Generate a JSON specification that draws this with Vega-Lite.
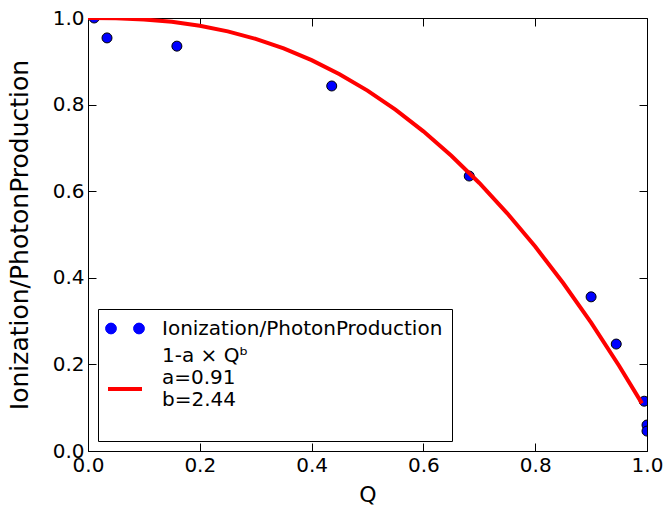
{
  "$schema": "https://vega.github.io/schema/vega-lite/v6.json",
  "width": 559,
  "height": 433,
  "autosize": {"type": "none"},
  "padding": {"left": 88, "top": 18, "right": 21, "bottom": 55},
  "background": "white",
  "datasets": {
    "pts": [
      {"Q": 0.011, "R": 1.0, "series": "Ionization/PhotonProduction"},
      {"Q": 0.034, "R": 0.954, "series": "Ionization/PhotonProduction"},
      {"Q": 0.159, "R": 0.935, "series": "Ionization/PhotonProduction"},
      {"Q": 0.436, "R": 0.843, "series": "Ionization/PhotonProduction"},
      {"Q": 0.682, "R": 0.635, "series": "Ionization/PhotonProduction"},
      {"Q": 0.9, "R": 0.356, "series": "Ionization/PhotonProduction"},
      {"Q": 0.945, "R": 0.247, "series": "Ionization/PhotonProduction"},
      {"Q": 0.995, "R": 0.115, "series": "Ionization/PhotonProduction"},
      {"Q": 1.0, "R": 0.06, "series": "Ionization/PhotonProduction"},
      {"Q": 1.0, "R": 0.046, "series": "Ionization/PhotonProduction"}
    ],
    "fit": [
      {"Q": 0.0, "R": 1.0, "series": "fit"},
      {"Q": 0.05, "R": 0.9994, "series": "fit"},
      {"Q": 0.1, "R": 0.9967, "series": "fit"},
      {"Q": 0.15, "R": 0.9911, "series": "fit"},
      {"Q": 0.2, "R": 0.9821, "series": "fit"},
      {"Q": 0.25, "R": 0.9691, "series": "fit"},
      {"Q": 0.3, "R": 0.9518, "series": "fit"},
      {"Q": 0.35, "R": 0.9298, "series": "fit"},
      {"Q": 0.4, "R": 0.9027, "series": "fit"},
      {"Q": 0.45, "R": 0.8703, "series": "fit"},
      {"Q": 0.5, "R": 0.8323, "series": "fit"},
      {"Q": 0.55, "R": 0.7884, "series": "fit"},
      {"Q": 0.6, "R": 0.7383, "series": "fit"},
      {"Q": 0.65, "R": 0.6819, "series": "fit"},
      {"Q": 0.7, "R": 0.6189, "series": "fit"},
      {"Q": 0.75, "R": 0.549, "series": "fit"},
      {"Q": 0.8, "R": 0.4721, "series": "fit"},
      {"Q": 0.85, "R": 0.3879, "series": "fit"},
      {"Q": 0.9, "R": 0.2963, "series": "fit"},
      {"Q": 0.95, "R": 0.197, "series": "fit"},
      {"Q": 0.991, "R": 0.1099, "series": "fit"}
    ]
  },
  "config": {
    "view": {"stroke": "black", "strokeWidth": 1},
    "axis": {
      "domain": false,
      "grid": false,
      "tickColor": "black",
      "tickSize": -8,
      "tickWidth": 1,
      "labelPadding": 12,
      "labelFont": "DejaVu Sans",
      "labelFontSize": 20,
      "labelColor": "black",
      "titleFont": "DejaVu Sans",
      "titleFontWeight": "normal",
      "titleColor": "black"
    },
    "legend": {
      "orient": "bottom-left",
      "offset": 10,
      "strokeColor": "black",
      "fillColor": "white",
      "padding": 9,
      "cornerRadius": 0,
      "labelFont": "DejaVu Sans",
      "labelFontSize": 20,
      "labelColor": "black",
      "labelLimit": 400,
      "symbolSize": 400,
      "symbolOffset": 6,
      "labelOffset": 25,
      "rowPadding": 5
    }
  },
  "layer": [
    {
      "data": {"name": "pts"},
      "mark": {"type": "point", "filled": true, "size": 100, "stroke": "black", "strokeWidth": 1, "opacity": 1, "clip": true},
      "encoding": {
        "x": {"field": "Q", "type": "quantitative", "scale": {"domain": [0, 1], "nice": false, "zero": false},
              "axis": {"values": [0, 0.2, 0.4, 0.6, 0.8, 1.0], "format": ".1f", "title": "Q", "titleFontSize": 22, "titlePadding": 9, "labelFlush": false}},
        "y": {"field": "R", "type": "quantitative", "scale": {"domain": [0, 1], "nice": false, "zero": false},
              "axis": {"values": [0, 0.2, 0.4, 0.6, 0.8, 1.0], "format": ".1f", "title": "Ionization/PhotonProduction", "titleFontSize": 25, "titlePadding": 20, "labelFlush": false}},
        "color": {
          "field": "series", "type": "nominal",
          "scale": {"domain": ["Ionization/PhotonProduction", "fit"], "range": ["#0000ff", "#ff0000"]},
          "legend": {"title": null, "labelExpr": "datum.value === 'fit' ? ['1-a × Qᵇ', 'a=0.91', 'b=2.44', ''] : datum.label"}
        }
      }
    },
    {
      "data": {"name": "fit"},
      "mark": {"type": "line", "strokeWidth": 4, "clip": true},
      "encoding": {
        "x": {"field": "Q", "type": "quantitative",
              "axis": {"orient": "top", "values": [0, 0.2, 0.4, 0.6, 0.8, 1.0], "labels": false, "title": null}},
        "y": {"field": "R", "type": "quantitative",
              "axis": {"orient": "right", "values": [0, 0.2, 0.4, 0.6, 0.8, 1.0], "labels": false, "title": null}},
        "color": {"field": "series", "type": "nominal",
          "legend": {"title": null, "labelExpr": "datum.value === 'fit' ? ['1-a × Qᵇ', 'a=0.91', 'b=2.44', ''] : datum.label"}}
      }
    },
    {
      "data": {"name": "pts"},
      "transform": [{"filter": "false"}],
      "mark": {"type": "point", "filled": true},
      "encoding": {
        "x": {"field": "Q", "type": "quantitative", "axis": null},
        "y": {"field": "R", "type": "quantitative", "axis": null},
        "shape": {
          "field": "series", "type": "nominal",
          "scale": {"domain": ["Ionization/PhotonProduction", "fit"], "range": ["M -1.94 0 A 0.54 0.54 0 1 0 -0.86 0 A 0.54 0.54 0 1 0 -1.94 0 Z M 0.86 0 A 0.54 0.54 0 1 0 1.94 0 A 0.54 0.54 0 1 0 0.86 0 Z", "M -1.7 3.3 L 1.7 3.3"]},
          "legend": {"title": null, "labelExpr": "datum.value === 'fit' ? ['1-a × Qᵇ', 'a=0.91', 'b=2.44', ''] : datum.label"}
        },
        "strokeWidth": {
          "field": "series", "type": "nominal",
          "scale": {"domain": ["Ionization/PhotonProduction", "fit"], "range": [1, 4]},
          "legend": {"title": null, "labelExpr": "datum.value === 'fit' ? ['1-a × Qᵇ', 'a=0.91', 'b=2.44', ''] : datum.label"}
        }
      }
    }
  ],
  "resolve": {"axis": {"x": "independent", "y": "independent"}}
}
